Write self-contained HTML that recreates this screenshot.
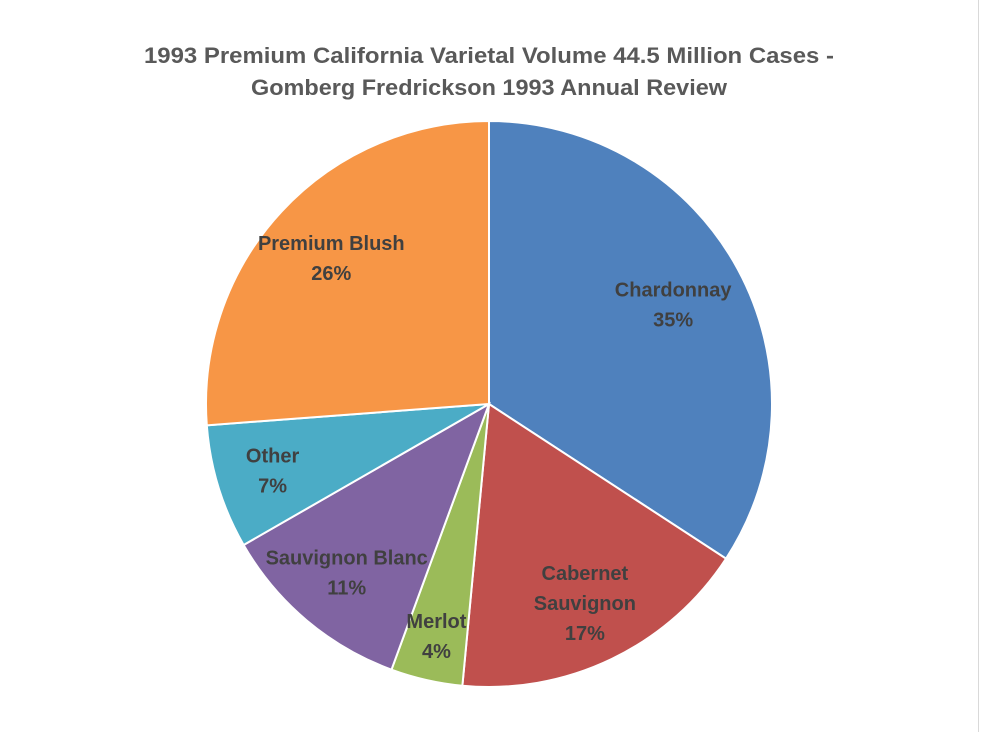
<!DOCTYPE html>
<html><head><meta charset="utf-8"><style>
body{margin:0;background:#fff;width:982px;height:732px;overflow:hidden;font-family:"Liberation Sans",sans-serif}
</style></head><body>
<svg width="982" height="732">
<line x1="978.5" y1="0" x2="978.5" y2="732" stroke="#d9d9d9"/>
<text x="489" y="63" text-anchor="middle" font-size="22" font-weight="bold" fill="#595959" textLength="690" lengthAdjust="spacingAndGlyphs">1993 Premium California Varietal Volume 44.5 Million Cases -</text>
<text x="489" y="95" text-anchor="middle" font-size="22" font-weight="bold" fill="#595959" textLength="476" lengthAdjust="spacingAndGlyphs">Gomberg Fredrickson 1993 Annual Review</text>
<g id="slices"></g><g id="labels"></g>
</svg>
<script>
const categories=["Chardonnay","Cabernet Sauvignon","Merlot","Sauvignon Blanc","Other","Premium Blush"];
const values=[34.2,17.3,4.1,11.1,7.1,26.2];
const pctLabels=["35%","17%","4%","11%","7%","26%"];
const colors=["#4f81bd","#c0504d","#9bbb59","#8064a2","#4bacc6","#f79646"];
const labelRadius=[0.74,0.78,0.84,0.78,0.8,0.76];
const cx=489,cy=404,r=283,ns="http://www.w3.org/2000/svg";
const total=values.reduce((a,b)=>a+b,0);
const sg=document.getElementById('slices'),lg=document.getElementById('labels');
function pt(a,rr){return [cx+rr*Math.sin(a),cy-rr*Math.cos(a)];}
let acc=0;
values.forEach((v,i)=>{
 const a0=acc/total*2*Math.PI;acc+=v;const a1=acc/total*2*Math.PI;
 const p0=pt(a0,r),p1=pt(a1,r);
 const p=document.createElementNS(ns,'path');
 p.setAttribute('d',`M${cx},${cy}L${p0[0]},${p0[1]}A${r},${r} 0 ${a1-a0>Math.PI?1:0} 1 ${p1[0]},${p1[1]}Z`);
 p.setAttribute('fill',colors[i]);p.setAttribute('stroke','#fff');p.setAttribute('stroke-width','2');
 
 
 sg.appendChild(p);
 const m=(a0+a1)/2,lp=pt(m,r*labelRadius[i]);
 const lines=(categories[i]==="Cabernet Sauvignon"?["Cabernet","Sauvignon"]:[categories[i]]).concat([pctLabels[i]]);
 const t=document.createElementNS(ns,'text');
 t.setAttribute('text-anchor','middle');t.setAttribute('font-size','20');t.setAttribute('font-weight','bold');t.setAttribute('fill','#404040');
 
 
 const y0=lp[1]-(lines.length-1)*15+7;
 lines.forEach((s,k)=>{const ts=document.createElementNS(ns,'tspan');ts.setAttribute('x',lp[0]);ts.setAttribute('y',y0+k*30);ts.textContent=s;t.appendChild(ts);});
 lg.appendChild(t);
});
</script>
</body></html>
